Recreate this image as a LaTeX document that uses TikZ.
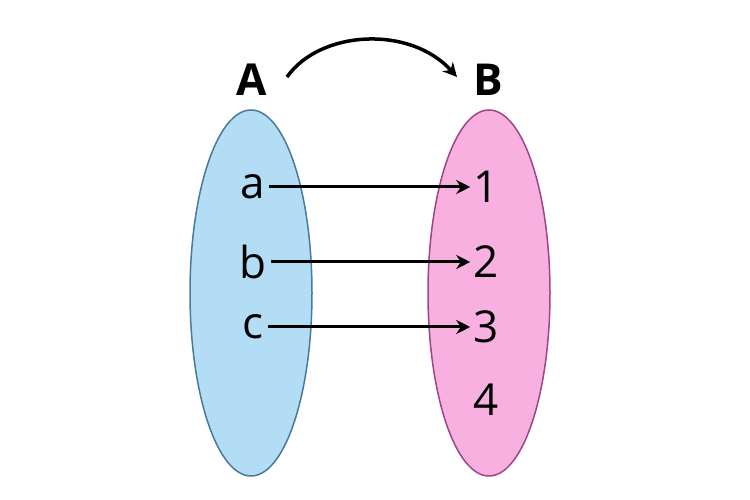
\documentclass[tikz,border=0pt]{standalone}
\usepackage{fontspec}
\setmainfont{Open Sans}
\usetikzlibrary{arrows.meta}
\begin{document}
\begin{tikzpicture}[x=1pt,y=1pt,
  lbl/.style={font=\fontsize{44}{48}\selectfont,inner sep=0pt},
  hd/.style={font=\fontsize{44}{48}\selectfont\bfseries,inner sep=0pt},
  arr/.style={line width=3pt,-{Stealth[length=14pt,width=14pt]}}]
\useasboundingbox (0,0) rectangle (750,500);
\definecolor{bfill}{HTML}{B3DDF5}\definecolor{bline}{HTML}{4A7A99}
\definecolor{pfill}{HTML}{F7B0E0}\definecolor{pline}{HTML}{A0448A}
\draw[fill=bfill,draw=bline,line width=1.5pt] (251,207) ellipse [x radius=61,y radius=183];
\draw[fill=pfill,draw=pline,line width=1.5pt] (489,207) ellipse [x radius=61,y radius=183];
\node[hd] (A) at (252,420) {A};
\node[hd] (B) at (488,420) {B};
\node[lbl] (a) at (253,313) {a};
\node[lbl] (b) at (253,238) {b};
\node[lbl] (c) at (253,173) {c};
\node[lbl] (n1) at (486,313) {1};
\node[lbl] (n2) at (486,238) {2};
\node[lbl] (n3) at (486,173) {3};
\node[lbl] (n4) at (486,100) {4};
\draw[arr] (a.east)++(4,0) -- ([xshift=-3pt]n1.west);
\draw[arr] (b.east)++(4,0) -- ([xshift=-3pt]n2.west);
\draw[arr] (c.east)++(4,0) -- ([xshift=-3pt]n3.west);
\coordinate (s) at (287,423);
\coordinate (e) at (457,423);
\draw[arr,line width=3.5pt] (s) .. controls (320,470) and (410,475) .. (e);
\end{tikzpicture}
\end{document}
